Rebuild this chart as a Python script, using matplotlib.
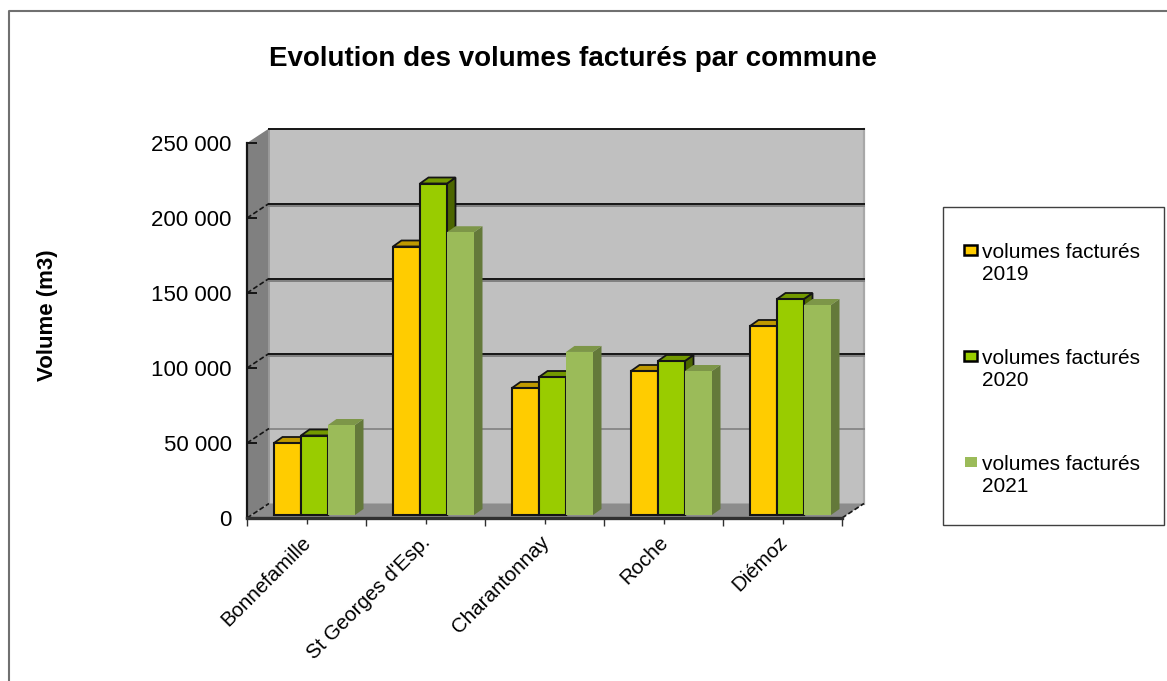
import matplotlib
matplotlib.use('Agg')
from matplotlib import pyplot as plt
from matplotlib.patches import Polygon, Rectangle
from matplotlib.transforms import ScaledTranslation

communes = ['Bonnefamille', "St Georges d'Esp.", 'Charantonnay', 'Roche', 'Diémoz']
volumes_2019 = [48000, 179000, 84700, 96000, 126000]
volumes_2020 = [53000, 221000, 92000, 102700, 144000]
volumes_2021 = [60000, 188500, 108700, 96000, 140000]
series_names = ['volumes facturés\n2019', 'volumes facturés\n2020', 'volumes facturés\n2021']
y_ticks = [0, 50000, 100000, 150000, 200000, 250000]
y_labels = ['0', '50 000', '100 000', '150 000', '200 000', '250 000']

W, H = 1167, 681
AX_L, AX_R, AX_B, AX_T = 247, 842, 518, 143
YMAX = 250000

plt.rcParams['font.family'] = ['Liberation Sans', 'DejaVu Sans']


def px_x(p):
    # pixels to category units
    return p * 5 / (AX_R - AX_L)


def px_y(p):
    # pixels to volume units
    return p * YMAX / (AX_B - AX_T)


def box_side(ax, x, w, base, top, dx, dy, color, zorder, edge='none'):
    ax.add_patch(Polygon([(x + w, base), (x + w + dx, base + dy), (x + w + dx, top + dy), (x + w, top)],
                         facecolor=color, edgecolor=edge, lw=1.3, zorder=zorder, clip_on=False))


def box_top(ax, x, w, top, dx, dy, color, zorder, edge='none'):
    ax.add_patch(Polygon([(x, top), (x + dx, top + dy), (x + w + dx, top + dy), (x + w, top)],
                         facecolor=color, edgecolor=edge, lw=1.3, zorder=zorder, clip_on=False))


fig = plt.figure(figsize=(W / 100, H / 100), dpi=100)
ax = fig.add_axes([AX_L / W, 1 - AX_B / H, (AX_R - AX_L) / W, (AX_B - AX_T) / H])
ax.set_xlim(0, 5)
ax.set_ylim(0, YMAX)
ax.patch.set_visible(False)
for side in ['top', 'right', 'bottom', 'left']:
    ax.spines[side].set_visible(False)

# walls and floor
DX = px_x(22)
DY = px_y(14.5)
ax.add_patch(Rectangle((DX, DY), 5, YMAX, facecolor='#c0c0c0', edgecolor='none', zorder=1, clip_on=False))
ax.add_patch(Polygon([(0, 0), (DX, DY), (DX, YMAX + DY), (0, YMAX)], facecolor='#808080',
                     edgecolor='none', zorder=1, clip_on=False))
ax.add_patch(Polygon([(0, 0), (DX, DY), (5 + DX, DY), (5, 0)], facecolor='#8c8c8c',
                     edgecolor='none', zorder=1, clip_on=False))
ax.plot([5 + DX, 5 + DX], [DY, YMAX + DY], color='#a8a8a8', lw=1.6, zorder=1, clip_on=False)
ax.plot([DX, DX], [DY, YMAX + DY], color='#9a9a9a', lw=1.4, zorder=1, clip_on=False)

# gridlines on the back and left walls
for v in y_ticks[1:]:
    col = '#8a8a8a' if v == 50000 else '#151515'
    if v != 50000 and v != 250000:
        ax.plot([DX, 5 + DX], [v + DY - px_y(2)] * 2, color='#808080', lw=1.4, zorder=2, clip_on=False)
    ax.plot([DX, 5 + DX], [v + DY] * 2, color=col, lw=1.4, zorder=2, clip_on=False)
for v in y_ticks[:-1]:
    ax.plot([0, DX], [v, v + DY], color='#151515', lw=1.2, ls=(0, (3, 1.5)), zorder=2, clip_on=False)
ax.plot([5, 5 + DX], [0, DY], color='#151515', lw=1.2, ls=(0, (3, 1.5)), zorder=2, clip_on=False)
ax.plot([0, 0], [0, YMAX], color='#151515', lw=1.6, zorder=3, clip_on=False)
ax.plot([0, 5], [0, 0], color='#303030', lw=2.4, zorder=3, clip_on=False)

# bars
BAR_W = px_x(27)
BAR_START = px_x(27)
BASE = px_y(3)
BAR_DX = px_x(8.5)
BAR_DY = px_y(6)
faces = ['#ffcc00', '#99cc00', '#9bbb59']
sides = ['#7f6600', '#4c6600', '#64793a']
tops = ['#bf9900', '#739900', '#7d9648']
edges = ['#151515', '#151515', 'none']
all_values = [volumes_2019, volumes_2020, volumes_2021]
for i in range(len(communes)):
    for s, values in enumerate(all_values):
        x = i + BAR_START + s * BAR_W
        z = 5 + s * 0.1
        ax.bar(x, values[i], BAR_W, bottom=BASE, align='edge', color=faces[s], edgecolor=edges[s],
               linewidth=1.5, zorder=z + 0.05, clip_on=False)
        box_side(ax, x, BAR_W, BASE, BASE + values[i], BAR_DX, BAR_DY, sides[s], z, edges[s])
        box_top(ax, x, BAR_W, BASE + values[i], BAR_DX, BAR_DY, tops[s], z, edges[s])

# axes ticks and labels
ax.set_yticks(y_ticks)
ax.set_yticklabels(y_labels, fontsize=16, color='black')
ax.tick_params(axis='y', length=7, width=1.4, direction='in', color='#151515', pad=11)
ax.set_xticks([i + 0.5 for i in range(5)])
ax.set_xticklabels(communes, rotation=45, ha='right', rotation_mode='anchor', fontsize=14.8)
ax.set_xticks(range(6), minor=True)
ax.tick_params(axis='x', which='major', length=4, width=1, color='#303030', pad=8)
ax.tick_params(axis='x', which='minor', length=6, width=1, color='#303030')
label_shift = ScaledTranslation(-5 / 100, 2 / 100, fig.dpi_scale_trans)
for label in ax.get_xticklabels():
    label.set_transform(label.get_transform() + label_shift)

fig.text(573 / W, 1 - 59 / H, 'Evolution des volumes facturés par commune', fontsize=20,
         fontweight='bold', ha='center', va='center')
fig.text(47 / W, 1 - 315 / H, 'Volume (m3)', fontsize=16, fontweight='bold', rotation=90,
         ha='center', va='center')

# outer frame is open on the right and at the bottom
fig.add_artist(plt.Line2D([9 / W, 9 / W, 1], [0, 1 - 11 / H, 1 - 11 / H], color='#707070', lw=1.5,
                          transform=fig.transFigure))

# legend box, patches sit on the first line of each entry
fig.add_artist(Rectangle((943 / W, 1 - 525 / H), 221 / W, 318 / H, fill=False, edgecolor='#404040', lw=1,
                         transform=fig.transFigure))
LEG_Y = [250, 356, 462]
for s, name in enumerate(series_names):
    pw, ph = (13, 10) if s < 2 else (12, 10)
    px = 964 if s < 2 else 965
    fig.add_artist(Rectangle((px / W, 1 - (LEG_Y[s] + ph / 2) / H), pw / W, ph / H, facecolor=faces[s],
                             edgecolor='black' if s < 2 else 'none', lw=1.8, transform=fig.transFigure))
    fig.text(982 / W, 1 - (LEG_Y[s] - 7) / H, name, fontsize=15, linespacing=1.2, ha='left', va='top')

fig.savefig('out.png', dpi=100)
